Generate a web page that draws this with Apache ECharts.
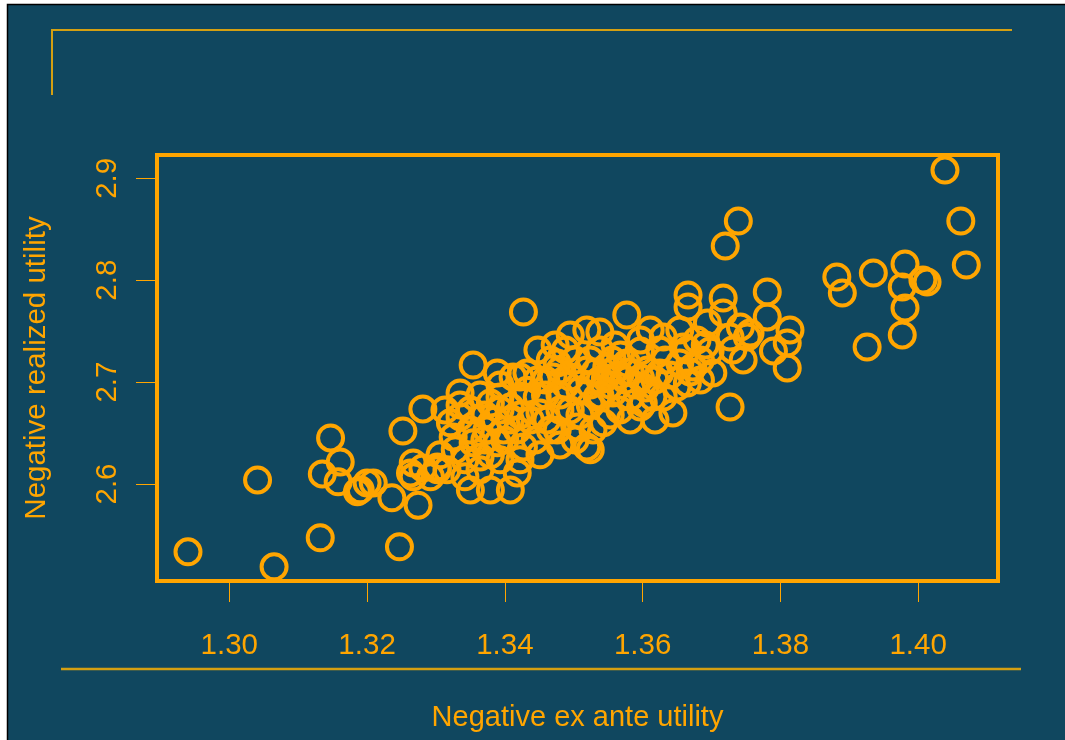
<!DOCTYPE html>
<html>
<head>
<meta charset="utf-8">
<script src="https://cdn.jsdelivr.net/npm/echarts@6/dist/echarts.min.js"></script>
<style>
  html, body { margin: 0; padding: 0; background: #fff; }
  #chart { width: 1065px; height: 740px; }
</style>
</head>
<body>
<div id="chart"></div>
<script>
// negative ex ante utility (x) and negative realized utility (y)
const exAnte = [
  1.2940, 1.3041, 1.3065, 1.3132, 1.3135, 1.3147, 1.3161, 1.3158, 1.3186, 1.3190,
  1.3200, 1.3209, 1.3236, 1.3247, 1.3252, 1.3274, 1.3267, 1.3263, 1.3267, 1.3281,
  1.3292, 1.3302, 1.3281, 1.3335, 1.3354, 1.3389, 1.3427, 1.3448, 1.3350, 1.3379,
  1.3408, 1.3418, 1.3427, 1.3302, 1.3316, 1.3325, 1.3321, 1.3335, 1.3350, 1.3354,
  1.3364, 1.3374, 1.3379, 1.3393, 1.3408, 1.3398, 1.3389, 1.3418, 1.3427, 1.3447,
  1.3451, 1.3412, 1.3432, 1.3466, 1.3524, 1.3519, 1.3528, 1.3505, 1.3476, 1.3461,
  1.3543, 1.3495, 1.3534, 1.3557, 1.3582, 1.3432, 1.3447, 1.3422, 1.3470, 1.3495,
  1.3519, 1.3548, 1.3577, 1.3607, 1.3625, 1.3654, 1.3665, 1.3577, 1.3495, 1.3538,
  1.3519, 1.3466, 1.3476, 1.3630, 1.3654, 1.3666, 1.3666, 1.3597, 1.3568, 1.3644,
  1.3650, 1.3665, 1.3597, 1.3615, 1.3717, 1.3717, 1.3781, 1.3781, 1.3814, 1.3810,
  1.3790, 1.3810, 1.3727, 1.3746, 1.3752, 1.3731, 1.3698, 1.3702, 1.3684, 1.3601,
  1.3694, 1.3742, 1.3756, 1.3727, 1.3679, 1.3659, 1.3673, 1.3630, 1.3720, 1.3739,
  1.4039, 1.4062, 1.4070, 1.3882, 1.3890, 1.3935, 1.3981, 1.3977, 1.4007, 1.4013,
  1.3981, 1.3977, 1.3926,
  1.3538, 1.3553, 1.3567, 1.3560, 1.3546, 1.3575, 1.3582, 1.3589, 1.3524, 1.3531,
  1.3597, 1.3604, 1.3556, 1.3538, 1.3509, 1.3480, 1.3488, 1.3459, 1.3393, 1.3364,
  1.3350, 1.3371, 1.3386, 1.3408, 1.3437, 1.3422, 1.3393, 1.3335, 1.3313, 1.3328,
  1.3342, 1.3306, 1.3633, 1.3640, 1.3618, 1.3684, 1.3669, 1.3691, 1.3625, 1.3459,
  1.3480, 1.3502, 1.3524, 1.3538, 1.3560, 1.3597, 1.3611, 1.3473, 1.3488, 1.3524,
  1.3509, 1.3480, 1.3567, 1.3553, 1.3582, 1.3618, 1.3422, 1.3444, 1.3451, 1.3480,
  1.3502, 1.3393, 1.3364, 1.3379, 1.3342, 1.3400, 1.3371
];
const realized = [
  2.5334, 2.6040, 2.5187, 2.5472, 2.6099, 2.6452, 2.6217, 2.6021, 2.5923, 2.5943,
  2.6011, 2.6011, 2.5864, 2.5383, 2.6520, 2.5791, 2.6207, 2.6109, 2.6070, 2.6158,
  2.6070, 2.6168, 2.6737, 2.6894, 2.7168, 2.7090, 2.7688, 2.7316, 2.5942, 2.5942,
  2.5942, 2.6109, 2.6364, 2.6139, 2.6139, 2.6462, 2.6600, 2.6659, 2.6531, 2.6404,
  2.6266, 2.6531, 2.6796, 2.6854, 2.6756, 2.6531, 2.6404, 2.6531, 2.6854, 2.7021,
  2.6698, 2.7051, 2.7090, 2.6531, 2.6335, 2.6364, 2.6531, 2.6560, 2.6531, 2.6629,
  2.6600, 2.6727, 2.6854, 2.6894, 2.6854, 2.6920, 2.6854, 2.7051, 2.7051, 2.7051,
  2.7120, 2.7149, 2.7188, 2.7120, 2.7090, 2.7188, 2.7316, 2.7659, 2.7462, 2.7492,
  2.7512, 2.7218, 2.7188, 2.7443, 2.7512, 2.7855, 2.7737, 2.7306, 2.7267, 2.6698,
  2.6953, 2.6992, 2.6756, 2.6854, 2.7826, 2.7679, 2.7885, 2.7640, 2.7512, 2.7384,
  2.7306, 2.7139, 2.6756, 2.7218, 2.7443, 2.7316, 2.7306, 2.7090, 2.7021, 2.6795,
  2.7580, 2.7541, 2.7482, 2.7443, 2.7414, 2.7345, 2.7149, 2.6854, 2.8336, 2.8581,
  2.9081, 2.8581, 2.8149, 2.8032, 2.7875, 2.8071, 2.8159, 2.7934, 2.8002, 2.7983,
  2.7728, 2.7463, 2.7345,
  2.7021, 2.6972, 2.7070, 2.7120, 2.7041, 2.7021, 2.7100, 2.6972, 2.6972, 2.7100,
  2.7041, 2.6943, 2.7218, 2.6874, 2.6923, 2.6874, 2.6972, 2.6874, 2.6972, 2.6874,
  2.6727, 2.6678, 2.6629, 2.6629, 2.6629, 2.6678, 2.6727, 2.6776, 2.6727, 2.6335,
  2.6237, 2.6286, 2.7218, 2.7070, 2.7021, 2.7218, 2.7100, 2.7364, 2.7316, 2.7021,
  2.7120, 2.7218, 2.7218, 2.7316, 2.7364, 2.7414, 2.7512, 2.7364, 2.7316, 2.6776,
  2.6678, 2.6727, 2.6727, 2.6678, 2.6629, 2.6629, 2.6237, 2.6433, 2.6286, 2.6384,
  2.6433, 2.6237, 2.6139, 2.6286, 2.6071, 2.6433, 2.6433
];
const xTicks = [1.30, 1.32, 1.34, 1.36, 1.38, 1.40];
const yTicks = [2.6, 2.7, 2.8, 2.9];

const points = exAnte.map((x, i) => [x, realized[i]]);

const orange = '#FFA500';
const gold = '#D4A012';
const font = 'Liberation Sans, Arial, sans-serif';

const option = {
  backgroundColor: '#10475F',
  animation: false,
  grid: {
    left: 157,
    top: 155,
    width: 841,
    height: 426,
    show: true,
    borderColor: orange,
    borderWidth: 4,
    backgroundColor: 'transparent',
  },
  xAxis: {
    type: 'value',
    min: 1.2895,
    max: 1.4116,
    name: 'Negative ex ante utility',
    nameLocation: 'middle',
    nameGap: 122,
    nameTextStyle: { color: orange, fontSize: 29, fontFamily: font, lineHeight: 29 },
    axisLine: { show: false },
    splitLine: { show: false },
    axisTick: {
      show: true,
      length: 21,
      customValues: xTicks,
      lineStyle: { color: orange, width: 1 },
    },
    axisLabel: {
      customValues: xTicks,
      color: orange,
      fontSize: 29.5,
      fontFamily: font,
      lineHeight: 29,
      margin: 50,
      formatter: (v) => v.toFixed(2),
    },
  },
  yAxis: {
    type: 'value',
    min: 2.5048,
    max: 2.9229,
    name: 'Negative realized utility',
    nameLocation: 'middle',
    nameGap: 106,
    nameRotate: 90,
    nameTextStyle: { color: orange, fontSize: 29.5, fontFamily: font, lineHeight: 29 },
    axisLine: { show: false },
    splitLine: { show: false },
    axisTick: {
      show: true,
      length: 21,
      customValues: yTicks,
      lineStyle: { color: orange, width: 1 },
    },
    axisLabel: {
      customValues: yTicks,
      color: orange,
      fontSize: 29.5,
      fontFamily: font,
      lineHeight: 29,
      rotate: 90,
      margin: 35,
      formatter: (v) => v.toFixed(1),
    },
  },
  graphic: [
    { type: 'rect', shape: { x: 0, y: 0, width: 7, height: 740 }, style: { fill: '#fff' }, silent: true },
    { type: 'rect', shape: { x: 0, y: 0, width: 1065, height: 4 }, style: { fill: '#fff' }, silent: true },
    { type: 'polyline', shape: { points: [[7.5, 740], [7.5, 4.5], [1065, 4.5]] }, style: { stroke: '#000', lineWidth: 1.5, fill: null }, silent: true },
    { type: 'polyline', shape: { points: [[52, 95], [52, 30], [1012, 30]] }, style: { stroke: gold, lineWidth: 2, fill: null }, silent: true },
    { type: 'line', shape: { x1: 61, y1: 669, x2: 1021, y2: 669 }, style: { stroke: gold, lineWidth: 2.5 }, silent: true },
  ],
  series: [
    {
      type: 'scatter',
      data: points,
      symbol: 'circle',
      symbolSize: 25,
      clip: false,
      itemStyle: {
        color: 'transparent',
        borderColor: orange,
        borderWidth: 4,
        opacity: 1,
      },
    },
  ],
};

const myChart = echarts.init(document.getElementById('chart'));
myChart.setOption(option);
</script>
</body>
</html>
